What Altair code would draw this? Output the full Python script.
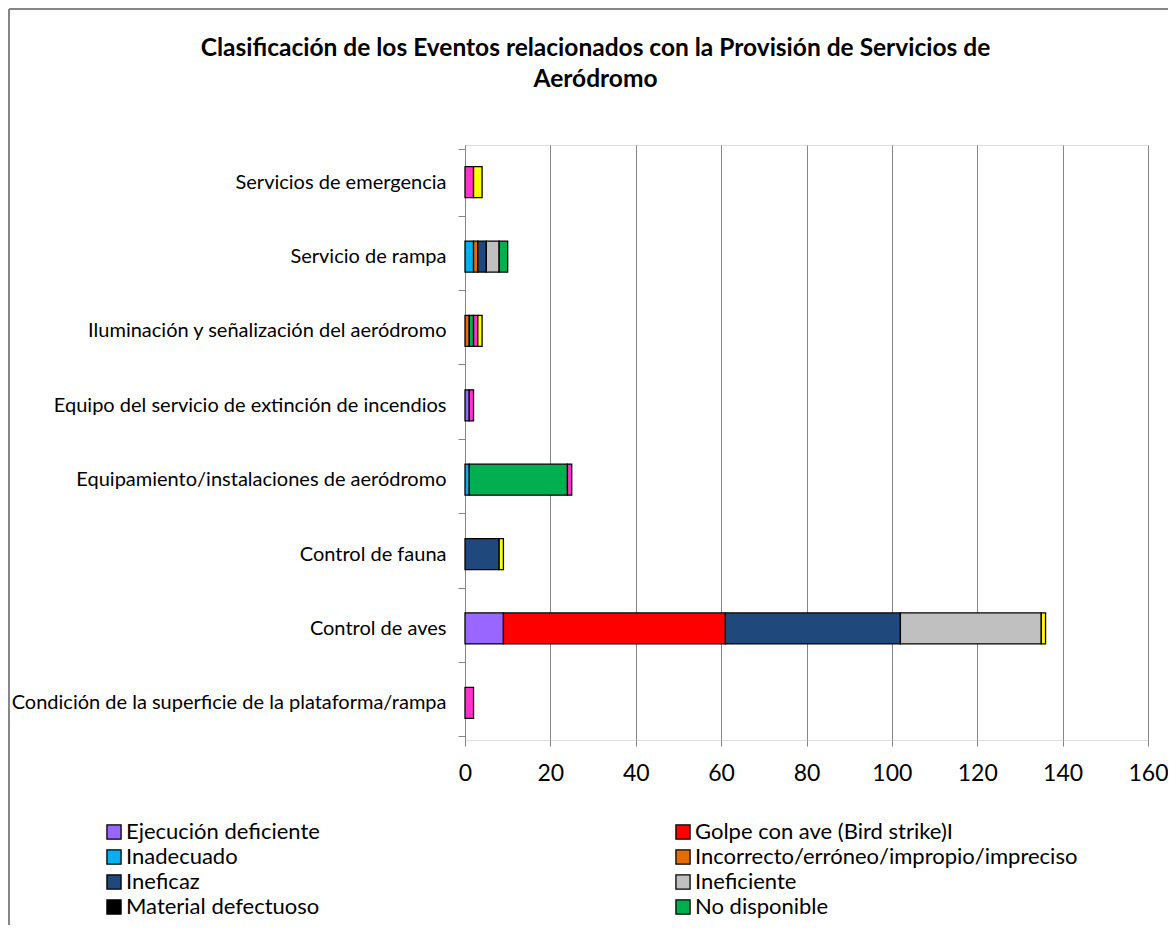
import altair as alt
import pandas as pd

categories = [
    "Servicios de emergencia",
    "Servicio de rampa",
    "Iluminación y señalización del aeródromo",
    "Equipo del servicio de extinción de incendios",
    "Equipamiento/instalaciones de aeródromo",
    "Control de fauna",
    "Control de aves",
    "Condición de la superficie de la plataforma/rampa",
]

series = [
    "Ejecución deficiente",
    "Golpe con ave (Bird strike)I",
    "Inadecuado",
    "Incorrecto/erróneo/impropio/impreciso",
    "Ineficaz",
    "Ineficiente",
    "Material defectuoso",
    "No disponible",
    "Otros",
    "Sin especificar",
]
legend_series = series[:8]

colors = ["#9966FF", "#FF0000", "#00B0F0", "#E36C09", "#1F497D",
          "#C0C0C0", "#000000", "#00B050", "#FF33CC", "#FFFF00"]

ejecucion = [0, 0, 0, 1, 0, 0, 9, 0]
golpe = [0, 0, 0, 0, 0, 0, 52, 0]
inadecuado = [0, 2, 0, 0, 1, 0, 0, 0]
incorrecto = [0, 1, 1, 0, 0, 0, 0, 0]
ineficaz = [0, 2, 0, 0, 0, 8, 41, 0]
ineficiente = [0, 3, 0, 0, 0, 0, 33, 0]
material = [0, 0, 0, 0, 0, 0, 0, 0]
no_disponible = [0, 2, 1, 0, 23, 0, 0, 0]
otros = [2, 0, 1, 1, 1, 0, 0, 2]
sin_especificar = [2, 0, 1, 0, 0, 1, 1, 0]

values = [ejecucion, golpe, inadecuado, incorrecto, ineficaz, ineficiente,
          material, no_disponible, otros, sin_especificar]

x_ticks = [0, 20, 40, 60, 80, 100, 120, 140, 160]

rows = []
for si, (s, vals) in enumerate(zip(series, values)):
    for c, v in zip(categories, vals):
        if v > 0:
            rows.append({"categoria": c, "serie": s, "valor": v, "orden": si})
df = pd.DataFrame(rows)

FONT = "Lato"

bars = alt.Chart(df).mark_bar(size=31, stroke="black", strokeWidth=1.3).encode(
    y=alt.Y("categoria:N", sort=categories, title=None,
            axis=alt.Axis(tickBand="extent", tickSize=7, labelPadding=12,
                          labelFontSize=20, labelColor="black", labelFont=FONT,
                          domainColor="#868686", tickColor="#868686",
                          labelLimit=600)),
    x=alt.X("valor:Q", stack="zero", title=None,
            scale=alt.Scale(domain=[0, 160], nice=False),
            axis=alt.Axis(values=x_ticks, grid=True, gridColor="#868686",
                          domain=False, tickSize=6, tickColor="#868686",
                          labelFlush=False,
                          labelPadding=16, labelFontSize=23, labelColor="black",
                          labelFont=FONT)),
    color=alt.Color("serie:N",
                    scale=alt.Scale(domain=series, range=colors),
                    legend=alt.Legend(values=legend_series, title=None,
                                      orient="none", legendX=-362, legendY=676,
                                      direction="horizontal",
                                      columns=2, columnPadding=352, rowPadding=3,
                                      symbolType="square", symbolSize=200,
                                      symbolStrokeColor="black", symbolStrokeWidth=1.3,
                                      labelFontSize=22, labelFont=FONT, labelOffset=1,
                                      labelColor="black", labelLimit=500)),
    order=alt.Order("orden:Q"),
)

border_df = pd.DataFrame({"k": [0]})
frame = alt.Chart(border_df).mark_rule(color="#868686", strokeWidth=2, clip=False)
left_line = frame.encode(x=alt.value(-456), y=alt.value(-136), y2=alt.value(790))
top_line = frame.encode(x=alt.value(-456), x2=alt.value(706), y=alt.value(-136))
right_line = frame.encode(x=alt.value(706), y=alt.value(-136), y2=alt.value(790))

chart = alt.layer(bars, left_line, top_line, right_line).properties(
    width=683,
    height=595,
    autosize=alt.AutoSizeParams(type="none"),
    padding={"left": 457, "top": 137, "right": 20, "bottom": 185},
    title=alt.TitleParams(
        ["Clasificación de los Eventos relacionados con la Provisión de Servicios de",
         "Aeródromo"],
        font=FONT, fontSize=24.5, fontWeight="bold", color="black",
        anchor="middle", dx=-211, offset=-84, lineHeight=31,
    ),
).configure_view(stroke=None).configure(background="white")

chart.save("out.html", embed_options={"renderer": "svg", "actions": False})
